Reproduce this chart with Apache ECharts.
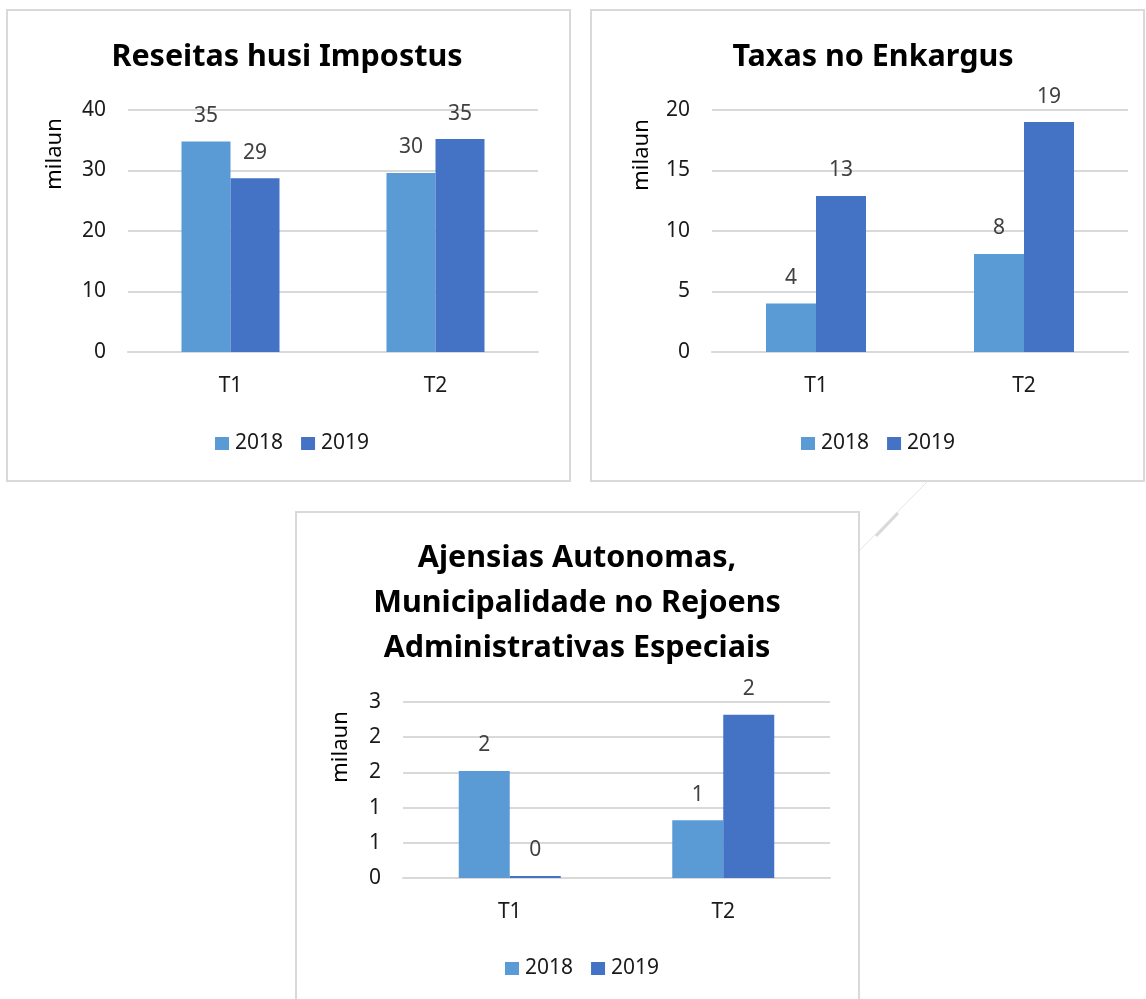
<!DOCTYPE html>
<html>
<head>
<meta charset="utf-8">
<script src="https://cdn.jsdelivr.net/npm/echarts@6/dist/echarts.min.js"></script>
<style>
  html, body { margin: 0; padding: 0; background: #ffffff; }
  #chart { width: 1146px; height: 999px; }
</style>
</head>
<body>
<div id="chart"></div>
<script>
// ---- data ----
const categories = ['T1', 'T2'];
const seriesNames = ['2018', '2019'];
const titles = [
  'Reseitas husi Impostus',
  'Taxas no Enkargus',
  'Ajensias Autonomas,\nMunicipalidade no Rejoens\nAdministrativas Especiais'
];
const yAxisName = 'milaun';
// Panel 1: Reseitas husi Impostus
const p1_2018 = [34.8, 29.6];
const p1_2019 = [28.7, 35.2];
// Panel 2: Taxas no Enkargus
const p2_2018 = [4.0, 8.1];
const p2_2019 = [12.9, 19.0];
// Panel 3: Ajensias Autonomas...
const p3_2018 = [1.52, 0.82];
const p3_2019 = [0.03, 2.32];
// axis scales
const yMax = [40, 20, 2.5];
const yInterval = [10, 5, 0.5];

// ---- styles ----
const FONT = '"Noto Sans", "Open Sans", sans-serif';
const C2018 = '#5B9BD5';
const C2019 = '#4472C4';
const GRIDC = '#D9D9D9';

const panels = [
  { grid: { left: 128, top: 110, width: 410, height: 242 }, barW: 49,
    title: { x: 287, y: 35 }, name: { x: 55, y: 154 }, legend: { x: 215, y: 433 },
    box: [7, 10, 563, 471] },
  { grid: { left: 712, top: 110, width: 416, height: 242 }, barW: 50,
    title: { x: 873, y: 35 }, name: { x: 642, y: 155 }, legend: { x: 801, y: 433 },
    box: [591, 10, 553, 471] },
  { grid: { left: 403, top: 702, width: 427, height: 176 }, barW: 51,
    title: { x: 577, y: 536 }, name: { x: 341, y: 747 }, legend: { x: 505, y: 958 },
    box: [296, 512, 563, 510] }
];
const data2018 = [p1_2018, p2_2018, p3_2018];
const data2019 = [p1_2019, p2_2019, p3_2019];

const chart = echarts.init(document.getElementById('chart'), null, { renderer: 'canvas' });

const option = {
  backgroundColor: '#ffffff',
  animation: false,
  title: panels.map((p, i) => ({
    text: titles[i],
    left: p.title.x,
    top: p.title.y,
    textAlign: 'center',
    padding: 0,
    textStyle: { fontFamily: FONT, fontWeight: 'bold', fontSize: 30.5, color: '#000000', lineHeight: 45 }
  })),
  legend: panels.map((p) => ({
    data: seriesNames,
    left: p.legend.x,
    top: p.legend.y,
    orient: 'horizontal',
    icon: 'rect',
    itemWidth: 14,
    itemHeight: 13,
    itemGap: 18,
    padding: 0,
    selectedMode: false,
    textStyle: { fontFamily: FONT, fontSize: 21, color: '#1a1a1a', padding: [0, 0, 0, 1] }
  })),
  grid: panels.map((p) => Object.assign({ containLabel: false }, p.grid)),
  xAxis: panels.map((p, i) => ({
    type: 'category',
    gridIndex: i,
    data: categories,
    axisLine: { show: true, lineStyle: { color: GRIDC, width: 2 } },
    axisTick: { show: false },
    axisLabel: { fontFamily: FONT, fontSize: 21, color: '#1a1a1a', margin: 24 }
  })),
  yAxis: panels.map((p, i) => ({
    type: 'value',
    gridIndex: i,
    min: 0,
    max: yMax[i],
    interval: yInterval[i],
    axisLine: { show: false },
    axisTick: { show: false },
    splitLine: { show: true, lineStyle: { color: GRIDC, width: 2 } },
    axisLabel: {
      fontFamily: FONT, fontSize: 21, color: '#1a1a1a', margin: 22,
      formatter: (v) => String(Math.round(v))
    }
  })),
  series: [].concat(...panels.map((p, i) => [
    { name: seriesNames[0], values: data2018[i], color: C2018 },
    { name: seriesNames[1], values: data2019[i], color: C2019 }
  ].map((s) => ({
    type: 'bar',
    name: s.name,
    xAxisIndex: i,
    yAxisIndex: i,
    data: s.values,
    barWidth: p.barW,
    barGap: '0%',
    itemStyle: { color: s.color },
    label: {
      show: true,
      position: 'top',
      distance: 15,
      fontFamily: FONT,
      fontSize: 21,
      color: '#404040',
      formatter: (prm) => String(Math.round(prm.value))
    }
  })))),
  graphic: [].concat(
    panels.map((p) => ({
      type: 'rect',
      shape: { x: p.box[0], y: p.box[1], width: p.box[2], height: p.box[3] },
      style: { fill: 'none', stroke: GRIDC, lineWidth: 2 },
      silent: true
    })),
    panels.map((p) => ({
      type: 'text',
      x: p.name.x,
      y: p.name.y,
      rotation: Math.PI / 2,
      style: {
        text: yAxisName,
        font: '22px ' + FONT,
        fill: '#000000',
        align: 'center',
        verticalAlign: 'middle'
      },
      silent: true
    })),
    [
      { type: 'line', shape: { x1: 928, y1: 481, x2: 860, y2: 550 },
        style: { stroke: '#E6E6E6', lineWidth: 1 }, silent: true },
      { type: 'line', shape: { x1: 898, y1: 513, x2: 876, y2: 536 },
        style: { stroke: '#D9D9D9', lineWidth: 3 }, silent: true }
    ]
  )
};

chart.setOption(option);
</script>
</body>
</html>
